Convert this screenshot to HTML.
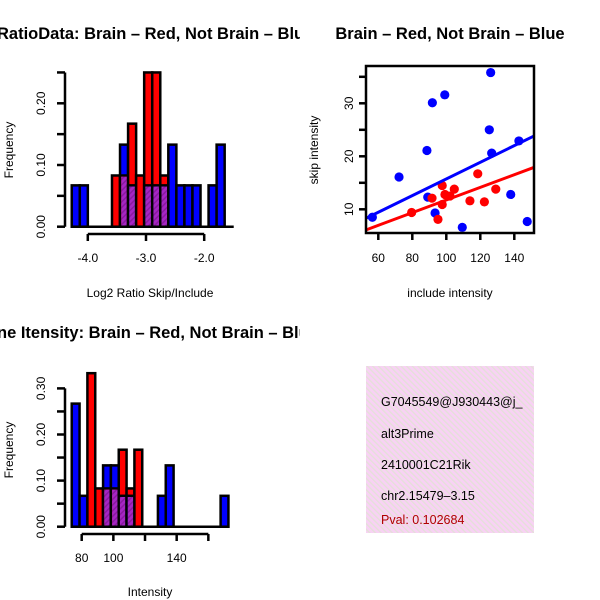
<!DOCTYPE html>
<html><head><meta charset="utf-8"><style>
html,body{margin:0;padding:0;background:#fff;}
svg{display:block;font-family:"Liberation Sans",sans-serif;}
</style></head><body>
<svg id="chart" width="600" height="600" viewBox="0 0 600 600" xmlns="http://www.w3.org/2000/svg">
<defs>
<pattern id="purp" width="4" height="4" patternUnits="userSpaceOnUse" patternTransform="rotate(45)">
<rect width="4" height="4" fill="#a626c4"/><rect width="1.5" height="4" fill="#8a1aa0"/>
</pattern>
<pattern id="pink" width="4" height="4" patternUnits="userSpaceOnUse" patternTransform="rotate(-45)">
<rect width="4" height="4" fill="#f8d2f4"/><rect width="1.3" height="4" fill="#e4e0d8"/>
</pattern>
<clipPath id="clipL"><rect x="0" y="0" width="300" height="600"/></clipPath>
</defs>
<g id="root"></g>
<g>
<rect x="366" y="366" width="168" height="167" fill="url(#pink)"/>
<text x="381" y="406" font-size="12.5">G7045549@J930443@j_</text>
<text x="381" y="438" font-size="12.5">alt3Prime</text>
<text x="381" y="469" font-size="12.5">2410001C21Rik</text>
<text x="381" y="500" font-size="12.5">chr2.15479–3.15</text>
<text x="381" y="524" font-size="12.5" fill="#b00000">Pval: 0.102684</text>
</g>
</svg>
<script>
// Top histogram data (Log2 ratio), bins of equal width
const ratioBinStart = -4.276;
const ratioBinWidth = 0.1383;
const ratioRed  = [0,0,0,0,0,0.083,0.083,0.167,0.083,0.25,0.25,0.083,0,0,0,0,0,0,0,0];
const ratioBlue = [0.067,0.067,0,0,0,0,0.133,0.067,0,0.067,0.067,0.067,0.133,0.067,0.067,0.067,0,0.067,0.133,0];
const ratioXTicks = [-4.0,-3.0,-2.0];
const ratioXLabels = ["-4.0","-3.0","-2.0"];
const ratioYTicks = [0,0.05,0.10,0.15,0.20,0.25];
const ratioYLabels = ["0.00","","0.10","","0.20",""];
// Bottom histogram data (intensity)
const intBinStart = 73.7;
const intBinWidth = 4.95;
const intRed  = [0,0,0.333,0.083,0.083,0.083,0.167,0.083,0.167,0,0,0,0,0,0,0,0,0,0,0];
const intBlue = [0.267,0.067,0,0,0.133,0.133,0.067,0.067,0,0,0,0.067,0.133,0,0,0,0,0,0,0.067];
const intXTicks = [80,100,120,140,160];
const intXLabels = ["80","100","","140",""];
const intYTicks = [0,0.05,0.10,0.15,0.20,0.25,0.30];
const intYLabels = ["0.00","","0.10","","0.20","","0.30"];
// Scatter data
const blueX = [56.5,72.2,88.6,91.8,99.1,126.1,125.3,126.7,142.7,137.9,147.6,109.4,93.4,89.1];
const blueY = [8.5,16.1,21.1,30.1,31.6,35.8,25.0,20.6,22.9,12.8,7.7,6.6,9.3,12.3];
const redX = [79.6,95.1,97.6,91.6,97.6,99.2,102.2,104.7,113.9,122.4,118.5,129.1];
const redY = [9.4,8.1,14.5,12.1,10.9,12.8,12.5,13.8,11.6,11.4,16.7,13.8];
// Fitted trend lines [intercept, slope] as shown in the reference
const blueFit = [0.03, 0.157];
const redFit = [-0.19, 0.1194];
const scatXTicks = [60,80,100,120,140];
const scatYTicks = [10,15,20,25,30,35];
const scatYLabels = ["10","","20","","30",""];

const NS="http://www.w3.org/2000/svg";
const root=document.getElementById('root');
function mk(tag,attrs,parent){const e=document.createElementNS(NS,tag);for(const k in attrs)e.setAttribute(k,attrs[k]);(parent||root).appendChild(e);return e;}
function txt(s,attrs,parent){const e=mk('text',attrs,parent);e.textContent=s;return e;}

function hist(o){
  const g=mk('g',{});
  
  
  const sx=v=>o.x0+(v-o.d0)*o.kx, sy=v=>o.y0-v*o.ky;
  for(let i=0;i<o.red.length;i++){
    const a=o.binStart+i*o.binW, b=a+o.binW;
    const x=sx(a), w=sx(b)-sx(a);
    const items=[['blue',o.blue[i]],['red',o.red[i]]].sort((p,q)=>q[1]-p[1]);
    for(const [c,v] of items){
      if(v<=0) continue;
      const r=mk('rect',{x:x,y:sy(v),width:w,height:sy(0)-sy(v),fill:c==='blue'?'#0000ff':'#ff0000',stroke:'#000','stroke-width':2.5},g);
      
      
    }
    const m=Math.min(o.red[i],o.blue[i]);
    if(m>0){
      const r=mk('rect',{x:x+1.2,y:sy(m)+1.2,width:w-2.4,height:sy(0)-sy(m)-1.2,fill:'url(#purp)'},g);
      
      
    }
  }
  mk('line',{x1:sx(o.binStart)-1,x2:sx(o.binStart+o.red.length*o.binW)+1,y1:sy(0),y2:sy(0),stroke:'#000','stroke-width':2.5},g);
  const ya=mk('g',{},g);
  
  
  const yt=o.yTicks;
  mk('line',{x1:o.yAxisX,x2:o.yAxisX,y1:sy(yt[0]),y2:sy(yt[yt.length-1]),stroke:'#000','stroke-width':2.5},ya);
  yt.forEach((v,i)=>{
    mk('line',{x1:o.yAxisX-8,x2:o.yAxisX,y1:sy(v),y2:sy(v),stroke:'#000','stroke-width':2.5},ya);
    if(o.yLabels[i]){const t=txt(o.yLabels[i],{x:0,y:0,'font-size':12,'text-anchor':'middle',transform:`translate(${o.yAxisX-20},${sy(v)}) rotate(-90)`},ya);
      
      }
  });
  const xa=mk('g',{},g);
  
  
  const xt=o.xTicks;
  mk('line',{x1:sx(xt[0]),x2:sx(xt[xt.length-1]),y1:o.xAxisY,y2:o.xAxisY,stroke:'#000','stroke-width':2.5},xa);
  xt.forEach((v,i)=>{
    mk('line',{x1:sx(v),x2:sx(v),y1:o.xAxisY,y2:o.xAxisY+7,stroke:'#000','stroke-width':2.5},xa);
    if(o.xLabels[i]){const t=txt(o.xLabels[i],{x:sx(v),y:o.xAxisY+28,'font-size':12,'text-anchor':'middle'},xa);
      
      }
  });
  const t1=txt(o.title,{x:-3,y:o.titleY,'font-size':16.5,'font-weight':'bold','clip-path':'url(#clipL)'},g);
  
  
  const t2=txt(o.xTitle,{x:150,y:o.xTitleY,'font-size':12,'text-anchor':'middle'},g);
  
  
  const t3=txt('Frequency',{x:0,y:0,'font-size':12,'text-anchor':'middle',transform:`translate(13,${o.yTitleY}) rotate(-90)`},g);
  
  
}

hist({name:'ratio-histogram',red:ratioRed,blue:ratioBlue,binStart:ratioBinStart,binW:ratioBinWidth,
  d0:-3,x0:146,kx:58.2,y0:226.7,ky:617,yAxisX:65,xAxisY:234,
  xTicks:ratioXTicks,xLabels:ratioXLabels,yTicks:ratioYTicks,yLabels:ratioYLabels,
  title:'RatioData: Brain – Red, Not Brain – Blue',titleY:39,xTitle:'Log2 Ratio Skip/Include',xTitleY:297,yTitleY:150});
hist({name:'intensity-histogram',red:intRed,blue:intBlue,binStart:intBinStart,binW:intBinWidth,
  d0:80,x0:81.7,kx:1.583,y0:526.7,ky:461,yAxisX:65,xAxisY:534,
  xTicks:intXTicks,xLabels:intXLabels,yTicks:intYTicks,yLabels:intYLabels,
  title:'ne Itensity: Brain – Red, Not Brain – Blue',titleY:338,xTitle:'Intensity',xTitleY:596,yTitleY:450});

(function(){
  const g=mk('g',{});
  
  
  const L=366,R=534,T=66,B=233;
  const sx=v=>378.3+(v-60)*1.7, sy=v=>209.3-(v-10)*5.3;
  const cl=mk('clipPath',{id:'scl'},g);mk('rect',{x:L,y:T,width:R-L,height:B-T},cl);
  [['blue',blueX,blueY,'#0000ff'],['red',redX,redY,'#ff0000']].forEach(([n,xs,ys,c])=>{
    xs.forEach((x,i)=>{const p=mk('circle',{cx:sx(x),cy:sy(ys[i]),r:4.6,fill:c},g);
      
      });
  });
  [['blue',blueFit,'#0000ff'],['red',redFit,'#ff0000']].forEach(([n,f,c])=>{
    const [a,b]=f;const x1=40,x2=170;
    const l=mk('line',{x1:sx(x1),x2:sx(x2),y1:sy(a+b*x1),y2:sy(a+b*x2),stroke:c,'stroke-width':3,'clip-path':'url(#scl)'},g);
    
    
  });
  mk('rect',{x:L,y:T,width:R-L,height:B-T,fill:'none',stroke:'#000','stroke-width':2.5},g);
  scatXTicks.forEach(v=>{mk('line',{x1:sx(v),x2:sx(v),y1:B,y2:B+7,stroke:'#000','stroke-width':2.5},g);
    const t=txt(String(v),{x:sx(v),y:B+29,'font-size':12,'text-anchor':'middle'},g);
    
    });
  scatYTicks.forEach((v,i)=>{mk('line',{x1:L-7,x2:L,y1:sy(v),y2:sy(v),stroke:'#000','stroke-width':2.5},g);
    if(scatYLabels[i]){const t=txt(scatYLabels[i],{x:0,y:0,'font-size':12,'text-anchor':'middle',transform:`translate(${L-13},${sy(v)}) rotate(-90)`},g);
    
    }});
  const t1=txt('Brain – Red, Not Brain – Blue',{x:450,y:39,'font-size':16.5,'font-weight':'bold','text-anchor':'middle'},g);
  
  
  const t2=txt('include intensity',{x:450,y:297,'font-size':12,'text-anchor':'middle'},g);
  
  
  const t3=txt('skip intensity',{x:0,y:0,'font-size':12,'text-anchor':'middle',transform:'translate(318,150) rotate(-90)'},g);
  
  
})();
</script>
</body></html>
